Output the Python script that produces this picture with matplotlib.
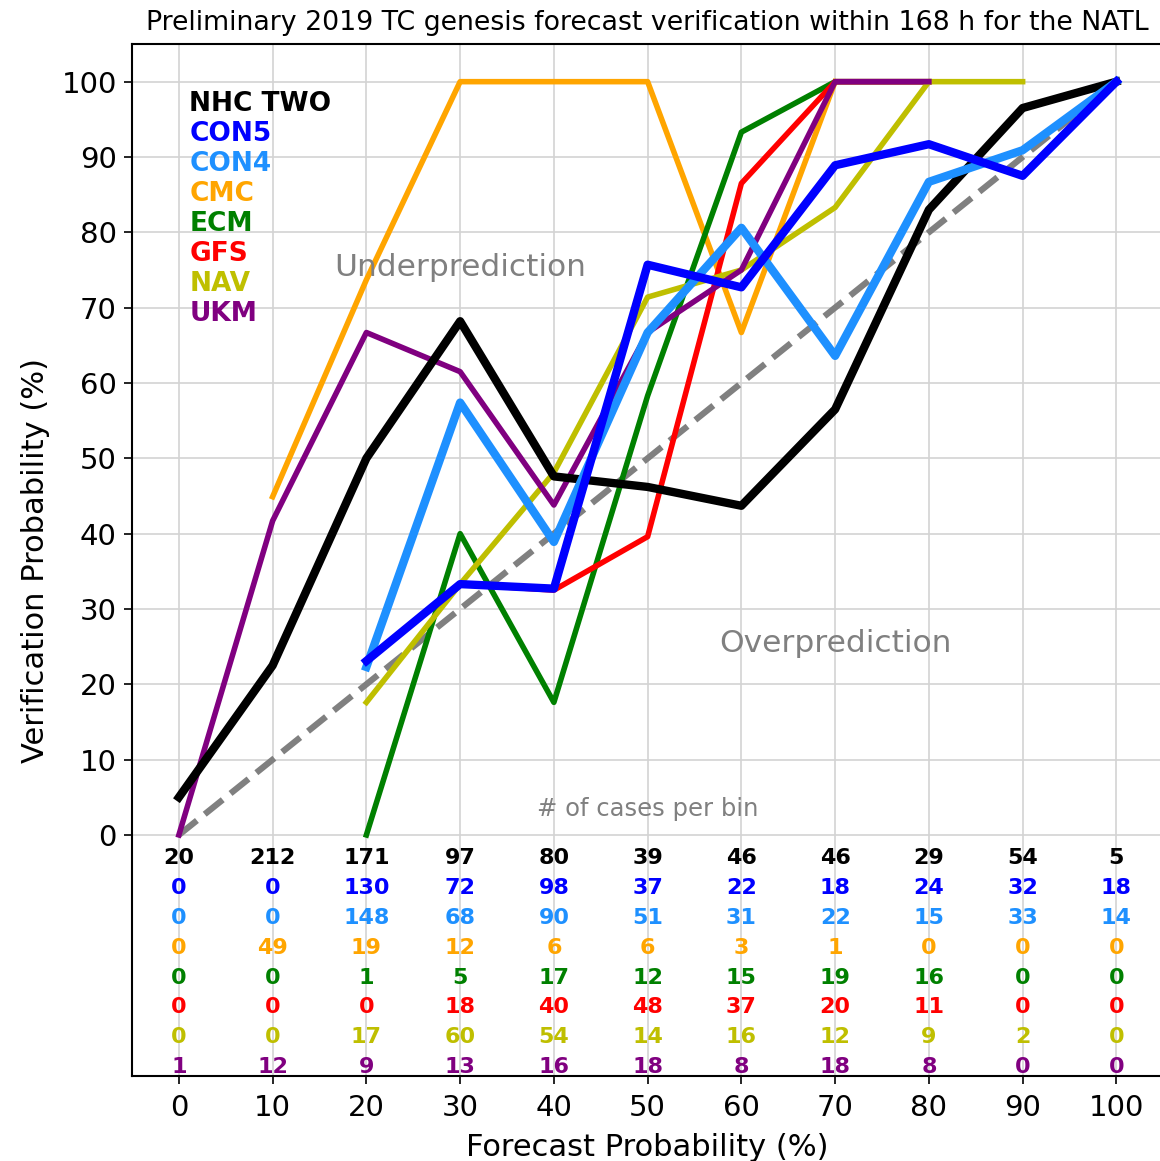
import numpy as np
import matplotlib
matplotlib.use('Agg')
import matplotlib.pyplot as plt

nan = np.nan

# forecast probability bins (%)
bins = [0, 10, 20, 30, 40, 50, 60, 70, 80, 90, 100]

# verification probability (%) per bin
nhc_two = [5, 22.5, 50, 68.2, 47.6, 46.2, 43.7, 56.5, 83.0, 96.5, 100]
con5 = [nan, nan, 23.1, 33.3, 32.7, 75.7, 72.7, 88.9, 91.7, 87.5, 100]
con4 = [nan, nan, 22.3, 57.4, 38.9, 66.7, 80.6, 63.6, 86.7, 90.9, 100]
cmc = [nan, 44.9, 73.7, 100, 100, 100, 66.7, 100, nan, nan, nan]
ecm = [nan, nan, 0, 40, 17.6, 58.3, 93.3, 100, 100, nan, nan]
gfs = [nan, nan, nan, 33.3, 32.5, 39.6, 86.5, 100, 100, nan, nan]
nav = [nan, nan, 17.6, 33.3, 48.1, 71.4, 75, 83.3, 100, 100, nan]
ukm = [0, 41.7, 66.7, 61.5, 43.8, 66.7, 75, 100, 100, nan, nan]

# number of cases per bin
n_nhc = [20, 212, 171, 97, 80, 39, 46, 46, 29, 54, 5]
n_con5 = [0, 0, 130, 72, 98, 37, 22, 18, 24, 32, 18]
n_con4 = [0, 0, 148, 68, 90, 51, 31, 22, 15, 33, 14]
n_cmc = [0, 49, 19, 12, 6, 6, 3, 1, 0, 0, 0]
n_ecm = [0, 0, 1, 5, 17, 12, 15, 19, 16, 0, 0]
n_gfs = [0, 0, 0, 18, 40, 48, 37, 20, 11, 0, 0]
n_nav = [0, 0, 17, 60, 54, 14, 16, 12, 9, 2, 0]
n_ukm = [1, 12, 9, 13, 16, 18, 8, 18, 8, 0, 0]

names = ['NHC TWO', 'CON5', 'CON4', 'CMC', 'ECM', 'GFS', 'NAV', 'UKM']
colors = ['black', 'blue', 'dodgerblue', 'orange', 'green', 'red', 'y', 'purple']
widths = [6, 6, 6, 4, 4, 4, 4, 4]
series = [nhc_two, con5, con4, cmc, ecm, gfs, nav, ukm]
counts = [n_nhc, n_con5, n_con4, n_cmc, n_ecm, n_gfs, n_nav, n_ukm]

fig = plt.figure(figsize=(11.6, 11.61), dpi=100)
ax = fig.add_axes([0.1138, 0.0732, 0.8890, 0.8889])

ax.plot([0, 100], [0, 100], '--', color='gray', lw=4.5, zorder=2)

# thin lines drawn first, thick ones on top
order = [3, 4, 5, 6, 7, 0, 2, 1]
for i in order:
    ax.plot(bins, series[i], color=colors[i], lw=widths[i], zorder=3)

for i, name in enumerate(names):
    ax.text(1.1, 97.1 - 4*i, name, color=colors[i], fontsize=19,
            fontweight='bold', va='center', ha='left')

for i in range(len(names)):
    for j, b in enumerate(bins):
        ax.text(b, -3.1 - 3.96*i, str(counts[i][j]), color=colors[i],
                fontsize=16, fontweight='bold', ha='center', va='center')

ax.text(30, 75.3, 'Underprediction', color='gray', fontsize=22.5,
        ha='center', va='center')
ax.text(70, 25.4, 'Overprediction', color='gray', fontsize=22.5,
        ha='center', va='center')
ax.text(50, 3.4, '# of cases per bin', color='gray', fontsize=17.5,
        ha='center', va='center')

ax.set_xlim(-5, 105)
ax.set_ylim(-32, 105)
ax.set_xticks(bins)
ax.set_yticks(np.arange(0, 101, 10))
ax.tick_params(labelsize=21, length=6, width=1.2, pad=5)
ax.tick_params(axis='x', pad=7)
ax.grid(True, color='lightgray', lw=1.2, zorder=0)
ax.set_axisbelow(True)
for s in ax.spines.values():
    s.set_linewidth(1.5)

ax.set_xlabel('Forecast Probability (%)', fontsize=22, labelpad=8)
ax.set_ylabel('Verification Probability (%)', fontsize=22, labelpad=8)
ax.set_title('Preliminary 2019 TC genesis forecast verification within 168 h for the NATL',
             fontsize=19.3, pad=10)

fig.savefig('out.png', dpi=100)
